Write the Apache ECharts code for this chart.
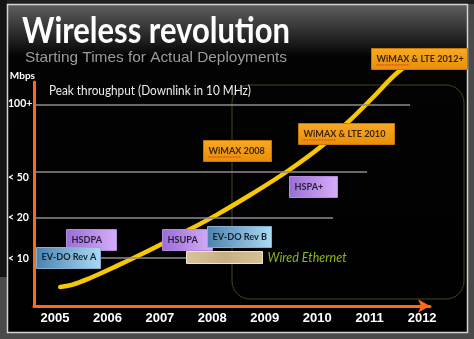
<!DOCTYPE html>
<html><head><meta charset="utf-8">
<script src="https://cdn.jsdelivr.net/npm/echarts@6/dist/echarts.min.js"></script>
<style>html,body{margin:0;padding:0;background:#4a4a4a}#c{width:474px;height:339px}</style>
</head><body><div id="c"></div>
<script>
// ---- data ----
const yearTicks = [2005, 2006, 2007, 2008, 2009, 2010, 2011, 2012];
const levelTickValues = [21.2, 39.3, 57.2, 90.5];
const levelTickLabels = ['< 10', '< 20', '< 50', '100+'];
const gridLevels = [21.6, 39.3, 59.8, 89.7];
const gridEnds = [2007.55, 2010.30, 2010.95, 2011.77];
const curveYears = [2005.10, 2005.32, 2005.67, 2006.18, 2006.81, 2007.44, 2008.09, 2008.75, 2009.45, 2010.11, 2010.57, 2011.07, 2011.52, 2011.87];
const curveLevels = [8.5, 9.4, 12.5, 17.9, 25.0, 32.6, 40.8, 50.0, 60.5, 71.9, 81.7, 93.3, 104.0, 109.8];
const techNames = ['HSDPA', 'EV-DO Rev A', 'HSUPA', 'EV-DO Rev B', 'WiMAX 2008', 'HSPA+', 'WiMAX & LTE 2010', 'WiMAX & LTE 2012+', 'Wired Ethernet'];
const techYears = [2005.21, 2004.64, 2007.04, 2007.90, 2007.82, 2009.46, 2009.635, 2011.03, 2007.50];
const techLevels = [29.5, 21.7, 29.5, 31.0, 69.2, 53.3, 76.8, 110.3, 21.9];
const techKinds = ['purple', 'blue', 'purple', 'blue', 'orange', 'purple', 'orange', 'orange', 'wired'];

// ---- styles ----
const boxWidths = [50, 64, 50, 64, 68, 48, 96, 96, 76];
const G = echarts.graphic;
const kindStyle = {
  purple: { fill: new G.LinearGradient(0, 0, 1, 0, [{offset: 0, color: '#9a6dd4'}, {offset: 1, color: '#d6affa'}]), stroke: '#b48ae0', text: '#2a1c3c' },
  blue: { fill: new G.LinearGradient(0, 0, 1, 0, [{offset: 0, color: '#4b82ae'}, {offset: 1, color: '#acdaf3'}]), stroke: '#7fb2d6', text: '#142230' },
  orange: { fill: new G.LinearGradient(0, 0, 0, 1, [{offset: 0, color: '#f8a925'}, {offset: 1, color: '#e88f06'}]), stroke: '#c77803', text: '#3d2506' },
  wired: { fill: new G.LinearGradient(0, 0, 1, 1, [{offset: 0, color: '#d9c49a'}, {offset: 0.5, color: '#c6af82'}, {offset: 1, color: '#d6c297'}]), stroke: '#efe4c8', text: '#8db51e' }
};
const measureCtx = document.createElement('canvas').getContext('2d');
function textW(t, font) { measureCtx.font = font; return measureCtx.measureText(t).width; }

const titleFont = 'bold 36px Lato';
const titleText = 'Wireless revolution';
const subFont = '15px "Liberation Sans"';
const subText = 'Starting Times for Actual Deployments';
const peakFont = '12.5px Lato';
const peakText = 'Peak throughput (Downlink in 10 MHz)';
const boxFontSize = Math.min(10, 10 * 82 / textW('WiMAX & LTE 2010', 'bold 10px Lato'));
const boxFont = 'bold ' + boxFontSize.toFixed(2) + 'px Lato';

const chart = echarts.init(document.getElementById('c'), null, {renderer: 'canvas'});
const option = {
  animation: false,
  backgroundColor: '#4a4a4a',
  grid: { left: 34, right: 44, top: 82, bottom: 33, containLabel: false },
  xAxis: {
    type: 'value', min: 2004.6, max: 2012.15,
    axisLine: { show: true, onZero: false, lineStyle: { color: '#ff6a13', width: 3 }, symbol: ['none', 'arrow'], symbolSize: [10, 12] },
    axisTick: { show: false }, splitLine: { show: false },
    axisLabel: { customValues: yearTicks, formatter: v => String(Math.round(v)), color: '#ffffff', fontWeight: 'bold', fontSize: 13, fontFamily: 'Liberation Sans', margin: 6 }
  },
  yAxis: {
    type: 'value', min: 0, max: 100,
    name: 'Mbps', nameLocation: 'end', nameGap: 1,
    nameTextStyle: { color: '#ffffff', fontWeight: 'bold', fontSize: 10, fontFamily: 'Lato', align: 'right', verticalAlign: 'bottom', padding: [0, -1, 0, 0] },
    axisLine: { show: true, onZero: false, lineStyle: { color: '#ff6a13', width: 3 } },
    axisTick: { show: false }, splitLine: { show: false },
    axisLabel: {
      customValues: levelTickValues, align: 'left', margin: 26,
      formatter: v => { let bi = 0; levelTickValues.forEach((t, i) => { if (Math.abs(t - v) < Math.abs(levelTickValues[bi] - v)) bi = i; }); return levelTickLabels[bi]; },
      color: '#ffffff', fontWeight: 'bold', fontSize: 10.5, fontFamily: 'Lato'
    }
  },
  graphic: [
    { type: 'rect', z: -10, shape: { x: 0, y: 0, width: 474, height: 4 }, style: { fill: '#202020' }, silent: true },
    { type: 'rect', z: -10, shape: { x: 0, y: 0, width: 7, height: 277 }, style: { fill: '#141414' }, silent: true },
    { type: 'rect', z: -9, shape: { x: 7.5, y: 4.5, width: 460, height: 328 },
      style: { fill: new G.LinearGradient(0, 0, 0, 1, [{offset: 0, color: '#606060'}, {offset: 0.16, color: '#030303'}, {offset: 1, color: '#000000'}]), stroke: '#d4d4d4', lineWidth: 1.5 }, silent: true },
    { type: 'rect', z: -8, shape: { x: 232, y: 85, width: 232, height: 214, r: 18 }, style: { fill: 'none', stroke: '#46461e', lineWidth: 1 }, silent: true },
    { type: 'text', z: 50, x: 22, y: 31, scaleX: 268 / textW(titleText, titleFont),
      style: { text: titleText, font: titleFont, fill: '#ffffff', verticalAlign: 'middle', align: 'left' } },
    { type: 'text', z: 50, x: 25, y: 58, scaleX: 262 / textW(subText, subFont),
      style: { text: subText, font: subFont, fill: '#9c9c9c', verticalAlign: 'middle', align: 'left' } },
    { type: 'text', z: 50, x: 49, y: 91, scaleX: 202 / textW(peakText, peakFont),
      style: { text: peakText, font: peakFont, fill: '#ececec', verticalAlign: 'middle', align: 'left' } }
  ],
  series: [
    {
      type: 'line', data: [], z: 1, silent: true,
      markLine: {
        silent: true, symbol: ['none', 'none'], animation: false,
        label: { show: false },
        lineStyle: { color: '#8e8e8e', width: 1.5, type: 'solid' },
        data: gridLevels.map((lv, i) => [{ coord: [2004.6, lv] }, { coord: [gridEnds[i], lv] }])
      }
    },
    {
      type: 'line', z: 3, smooth: 0.4, clip: false, showSymbol: false, symbol: 'none',
      data: curveYears.map((y, i) => [y, curveLevels[i]]),
      lineStyle: { color: '#f8c800', width: 4.5, cap: 'round', join: 'round' }
    },
    {
      type: 'custom', z: 5, clip: false,
      data: techYears.map((y, i) => [y, techLevels[i]]),
      renderItem: (params, api) => {
        const i = params.dataIndex;
        const p = api.coord([api.value(0), api.value(1)]);
        const kind = techKinds[i];
        const st = kindStyle[kind];
        const w = boxWidths[i];
        const h = kind === 'wired' ? 12 : 21;
        const x = Math.round(p[0]) + 0.5, y = Math.round(p[1] - h / 2) + 0.5;
        const children = [{ type: 'rect', shape: { x, y, width: w, height: h }, style: { fill: st.fill, stroke: st.stroke, lineWidth: 1 } }];
        if (kind === 'wired') {
          children.push({ type: 'text', style: { text: techNames[i], x: x + w + 5, y: p[1] + 1, font: 'italic 12.5px Lato', fill: st.text, verticalAlign: 'middle', align: 'left' } });
        } else {
          children.push({ type: 'text', style: { text: techNames[i], x: x + 5, y: p[1], font: boxFont, fill: st.text, verticalAlign: 'middle', align: 'left' } });
          if (kind === 'orange') {
            const uw = textW('WiMAX', boxFont);
            children.push({ type: 'line', shape: { x1: x + 5, y1: p[1] + 6, x2: x + 5 + uw, y2: p[1] + 6 }, style: { stroke: '#d83a2a', lineWidth: 1, lineDash: [2, 1] } });
          }
        }
        return { type: 'group', children };
      }
    }
  ]
};
chart.setOption(option);
</script></body></html>
